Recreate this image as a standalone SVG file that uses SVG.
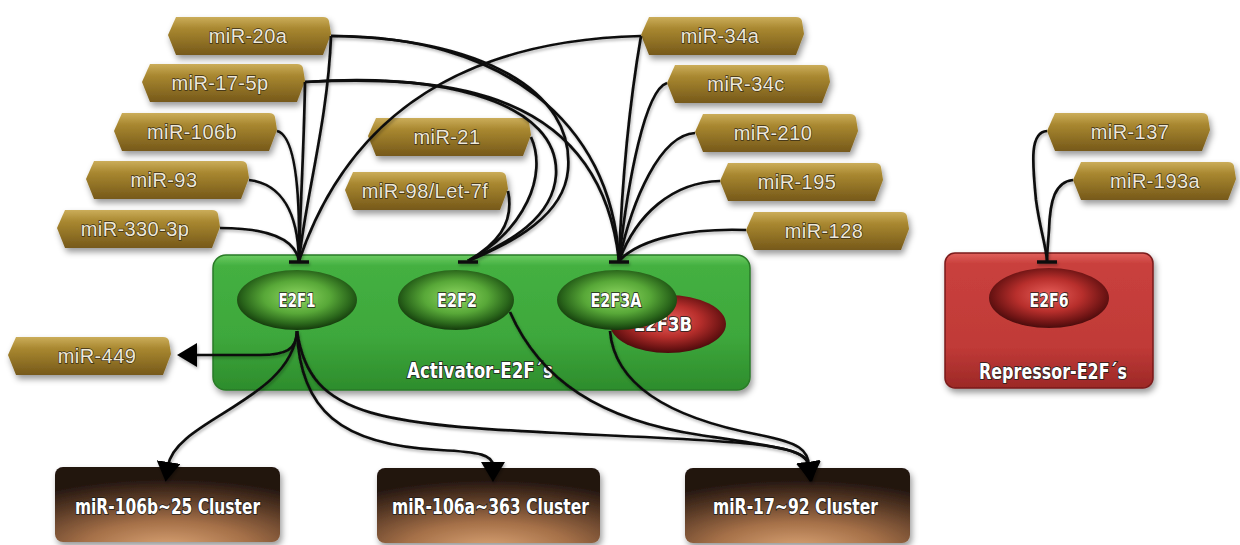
<svg xmlns="http://www.w3.org/2000/svg" xmlns:xlink="http://www.w3.org/1999/xlink" width="1240" height="545" viewBox="0 0 1240 545">
<defs>
  <linearGradient id="gold" x1="0" y1="0" x2="0" y2="1">
    <stop offset="0" stop-color="#cbad5a"/>
    <stop offset="0.3" stop-color="#a98830"/>
    <stop offset="1" stop-color="#76591a"/>
  </linearGradient>
  <linearGradient id="greenBox" x1="0" y1="0" x2="0" y2="1">
    <stop offset="0" stop-color="#6ccc62"/>
    <stop offset="0.08" stop-color="#44b041"/>
    <stop offset="0.6" stop-color="#3ea83c"/>
    <stop offset="1" stop-color="#2d8d2c"/>
  </linearGradient>
  <linearGradient id="redBox" x1="0" y1="0" x2="0" y2="1">
    <stop offset="0" stop-color="#e0615b"/>
    <stop offset="0.08" stop-color="#c9403d"/>
    <stop offset="0.7" stop-color="#c03a37"/>
    <stop offset="1" stop-color="#9c2826"/>
  </linearGradient>
  <radialGradient id="greenEll" cx="0.5" cy="0.45" r="0.55">
    <stop offset="0" stop-color="#8fd862"/>
    <stop offset="0.5" stop-color="#58a838"/>
    <stop offset="0.82" stop-color="#2a661b"/>
    <stop offset="1" stop-color="#143a0c"/>
  </radialGradient>
  <radialGradient id="redEll" cx="0.5" cy="0.45" r="0.55">
    <stop offset="0" stop-color="#e85f5a"/>
    <stop offset="0.5" stop-color="#b82f2c"/>
    <stop offset="0.85" stop-color="#6e1414"/>
    <stop offset="1" stop-color="#4a0c0c"/>
  </radialGradient>
  <radialGradient id="cluster" cx="0.5" cy="1.1" r="0.95">
    <stop offset="0" stop-color="#dca677"/>
    <stop offset="0.4" stop-color="#a57048"/>
    <stop offset="0.75" stop-color="#553724"/>
    <stop offset="1" stop-color="#21150f"/>
  </radialGradient>
  <filter id="shadow" x="-10%" y="-20%" width="125%" height="150%">
    <feDropShadow dx="2" dy="4" stdDeviation="3" flood-color="#000" flood-opacity="0.4"/>
  </filter>
  <filter id="lineShadow" x="-5%" y="-5%" width="110%" height="115%">
    <feDropShadow dx="1" dy="2" stdDeviation="1.5" flood-color="#000" flood-opacity="0.3"/>
  </filter>
  <path id="tag" d="M8,0 H155 Q160,0 161,4 L163,17 L155,38 H8 L0,18 Z"/>
  <marker id="arrow" viewBox="0 0 20 24" refX="4" refY="12" markerWidth="20" markerHeight="24" markerUnits="userSpaceOnUse" orient="auto">
    <path d="M0,0 L20,12 L0,24 Z" fill="#000"/>
  </marker>
  <style>
    .tag { fill: url(#gold); filter: url(#shadow); }
    .tt { font-family: "Liberation Sans", Arial, sans-serif; font-size: 20px; letter-spacing: 0.4px; fill: #eee8d8; stroke: #3a2e16; stroke-width: 1.3px; paint-order: stroke fill; text-anchor: middle; }
    .nt { font-family: "Liberation Sans Narrow", "DejaVu Sans Condensed", "Liberation Sans", sans-serif; font-weight: bold; fill: #ffffff; stroke: #1d1d1d; stroke-width: 1.6px; paint-order: stroke fill; }
    .ell { fill: url(#greenEll); }
    .rell { fill: url(#redEll); }
    .ln { fill: none; stroke: #0d0d0d; stroke-width: 2.7; }
    .bar { stroke: #0d0d0d; stroke-width: 3.5; }
    .cl { fill: url(#cluster); filter: url(#shadow); }
  </style>
</defs>
<rect width="1240" height="545" fill="#ffffff"/>

<!-- containers -->
<g id="activator">
  <rect x="213" y="255" width="537" height="135" rx="13" fill="url(#greenBox)" stroke="#2a7a28" stroke-width="1.5" filter="url(#shadow)"/>
  <text class="nt" x="407" y="378" font-size="21" textLength="146" lengthAdjust="spacingAndGlyphs">Activator-E2F´s</text>
</g>
<g id="repressor">
  <rect x="945" y="253" width="208" height="135" rx="10" fill="url(#redBox)" stroke="#7a1a1a" stroke-width="1.5" filter="url(#shadow)"/>
  <text class="nt" x="979" y="379" font-size="21" textLength="148" lengthAdjust="spacingAndGlyphs">Repressor-E2F´s</text>
</g>

<!-- E2F nodes -->
<g id="E2F3B">
  <ellipse class="rell" cx="668" cy="324" rx="58" ry="29"/>
  <text class="nt" x="663" y="331" font-size="20" text-anchor="middle" textLength="58" lengthAdjust="spacingAndGlyphs">E2F3B</text>
</g>
<g id="E2F1">
  <ellipse class="ell" cx="297" cy="300" rx="60" ry="30"/>
  <text class="nt" x="297" y="307" font-size="20" text-anchor="middle" textLength="37" lengthAdjust="spacingAndGlyphs">E2F1</text>
</g>
<g id="E2F2">
  <ellipse class="ell" cx="456" cy="300" rx="58" ry="30"/>
  <text class="nt" x="457" y="307" font-size="20" text-anchor="middle" textLength="40" lengthAdjust="spacingAndGlyphs">E2F2</text>
</g>
<g id="E2F3A">
  <ellipse class="ell" cx="617" cy="300" rx="60" ry="30"/>
  <text class="nt" x="616" y="307" font-size="20" text-anchor="middle" textLength="51" lengthAdjust="spacingAndGlyphs">E2F3A</text>
</g>
<g id="E2F6">
  <ellipse class="rell" cx="1049" cy="298" rx="60" ry="30"/>
  <text class="nt" x="1049" y="307" font-size="20" text-anchor="middle" textLength="39" lengthAdjust="spacingAndGlyphs">E2F6</text>
</g>

<!-- clusters -->
<g id="cluster-106b-25">
  <rect class="cl" x="55" y="467" width="225" height="75" rx="8"/>
  <text class="nt" x="75" y="514" font-size="21" textLength="185" lengthAdjust="spacingAndGlyphs">miR-106b~25 Cluster</text>
</g>
<g id="cluster-106a-363">
  <rect class="cl" x="377" y="468" width="223" height="75" rx="8"/>
  <text class="nt" x="392" y="514" font-size="21" textLength="197" lengthAdjust="spacingAndGlyphs">miR-106a~363 Cluster</text>
</g>
<g id="cluster-17-92">
  <rect class="cl" x="685" y="468" width="225" height="75" rx="8"/>
  <text class="nt" x="713" y="514" font-size="21" textLength="165" lengthAdjust="spacingAndGlyphs">miR-17~92 Cluster</text>
</g>

<!-- miRNA tags -->
<g id="miR-20a"><use href="#tag" class="tag" x="168" y="17"/><text class="tt" x="248" y="43">miR-20a</text></g>
<g id="miR-17-5p"><use href="#tag" class="tag" x="142" y="64"/><text class="tt" x="220" y="90">miR-17-5p</text></g>
<g id="miR-106b"><use href="#tag" class="tag" x="114" y="113"/><text class="tt" x="192" y="139">miR-106b</text></g>
<g id="miR-93"><use href="#tag" class="tag" x="86" y="161"/><text class="tt" x="164" y="187">miR-93</text></g>
<g id="miR-330-3p"><use href="#tag" class="tag" x="57" y="210"/><text class="tt" x="135" y="236">miR-330-3p</text></g>
<g id="miR-34a"><use href="#tag" class="tag" x="641" y="17"/><text class="tt" x="720" y="43">miR-34a</text></g>
<g id="miR-34c"><use href="#tag" class="tag" x="667" y="65"/><text class="tt" x="746" y="91">miR-34c</text></g>
<g id="miR-210"><use href="#tag" class="tag" x="695" y="114"/><text class="tt" x="773" y="140">miR-210</text></g>
<g id="miR-195"><use href="#tag" class="tag" x="720" y="163"/><text class="tt" x="797" y="189">miR-195</text></g>
<g id="miR-128"><use href="#tag" class="tag" x="746" y="212"/><text class="tt" x="824" y="238">miR-128</text></g>
<g id="miR-21"><use href="#tag" class="tag" x="368" y="118"/><text class="tt" x="447" y="144">miR-21</text></g>
<g id="miR-98-Let-7f"><use href="#tag" class="tag" x="345" y="172"/><text class="tt" x="425" y="198">miR-98/Let-7f</text></g>
<g id="miR-137"><use href="#tag" class="tag" x="1047" y="113"/><text class="tt" x="1130" y="139">miR-137</text></g>
<g id="miR-193a"><use href="#tag" class="tag" x="1073" y="162"/><text class="tt" x="1155" y="188">miR-193a</text></g>
<g id="miR-449"><use href="#tag" class="tag" x="8" y="337"/><text class="tt" x="97" y="363">miR-449</text></g>

<!-- connectors -->
<g id="connectors" filter="url(#lineShadow)">
  <!-- to E2F1 -->
  <path class="ln" d="M331,36 C328,120 305,200 299,261"/>
  <path class="ln" d="M305,82 C304,150 300,210 299,261"/>
  <path class="ln" d="M277,131 C297,136 300,200 299,261"/>
  <path class="ln" d="M249,180 C283,184 298,215 299,261"/>
  <path class="ln" d="M220,228 C268,228 295,238 299,261"/>
  <path class="ln" d="M641,36 C470,40 350,110 299,261"/>
  <line class="bar" x1="289" y1="262" x2="309" y2="262"/>
  <!-- to E2F2 -->
  <path class="ln" d="M531,137 C548,175 525,230 468,261"/>
  <path class="ln" d="M508,191 C515,225 495,245 468,261"/>
  <path class="ln" d="M331,36 C480,38 575,90 568,170 C564,215 515,242 468,261"/>
  <path class="ln" d="M305,82 C450,72 560,105 556,175 C553,218 510,242 468,261"/>
  <line class="bar" x1="458" y1="262" x2="478" y2="262"/>
  <!-- to E2F3A -->
  <path class="ln" d="M331,36 C500,35 612,120 619,261"/>
  <path class="ln" d="M305,82 C450,75 600,90 619,261"/>
  <path class="ln" d="M641,36 C630,100 622,180 619,261"/>
  <path class="ln" d="M667,83 C645,90 628,180 619,261"/>
  <path class="ln" d="M695,133 C660,135 632,200 619,261"/>
  <path class="ln" d="M720,181 C672,182 636,215 619,261"/>
  <path class="ln" d="M746,230 C692,228 640,238 619,261"/>
  <line class="bar" x1="609" y1="262" x2="629" y2="262"/>
  <!-- to E2F6 -->
  <path class="ln" d="M1047,131 C1030,132 1032,160 1036,200 C1040,230 1046,245 1047,261"/>
  <path class="ln" d="M1073,180 C1055,182 1050,200 1049,230 C1048,245 1047,252 1047,261"/>
  <line class="bar" x1="1037" y1="262" x2="1057" y2="262"/>
  <!-- activation -->
  <path class="ln" d="M297,331 C297,350 285,355 260,355 L193,355" marker-end="url(#arrow)"/>
  <path class="ln" d="M297,331 C292,400 175,420 168,466" marker-end="url(#arrow)"/>
  <path class="ln" d="M297,331 C300,410 340,445 440,450 C480,452 493,455 493,466" marker-end="url(#arrow)"/>
  <path class="ln" d="M297,331 C310,420 380,425 600,435 C760,442 805,445 809,466" marker-end="url(#arrow)"/>
  <path class="ln" d="M510,312 C540,380 600,420 700,435 C780,447 807,450 809,466" marker-end="url(#arrow)"/>
  <path class="ln" d="M610,331 C615,390 680,420 760,435 C800,443 808,450 809,466" marker-end="url(#arrow)"/>
</g>
</svg>
